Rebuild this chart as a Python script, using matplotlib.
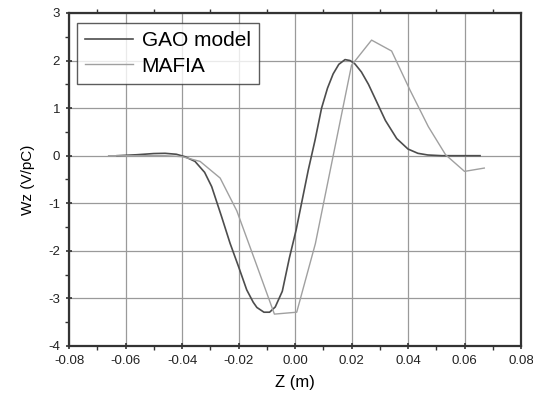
import matplotlib
matplotlib.use("Agg")

import matplotlib.pyplot as plt
from matplotlib.ticker import MultipleLocator

plt.rcParams["font.family"] = ["Liberation Sans", "DejaVu Sans"]
plt.rcParams["axes.unicode_minus"] = False

# GAO model curve
gao_z = [-0.063, -0.056, -0.050, -0.046, -0.042, -0.039, -0.0354, -0.032, -0.0295,
         -0.026, -0.023, -0.020, -0.0171, -0.0148, -0.0135, -0.011, -0.009, -0.007,
         -0.0045, -0.002, 0.0004, 0.0047, 0.0071, 0.0094, 0.0115, 0.0135, 0.0155,
         0.0177, 0.0195, 0.0212, 0.0235, 0.026, 0.029, 0.032, 0.036, 0.040,
         0.0435, 0.047, 0.052, 0.0655]
gao_wz = [0.0, 0.02, 0.045, 0.05, 0.03, -0.02, -0.12, -0.35, -0.65,
          -1.28, -1.84, -2.33, -2.82, -3.08, -3.19, -3.29, -3.29, -3.18,
          -2.85, -2.15, -1.56, -0.30, 0.33, 1.0, 1.42, 1.72, 1.92,
          2.02, 2.0, 1.93, 1.76, 1.50, 1.12, 0.74, 0.36, 0.14,
          0.05, 0.015, 0.0, 0.0]

# MAFIA simulation (polyline)
mafia_z = [-0.066, -0.053, -0.046, -0.040, -0.0336, -0.0265, -0.0206, -0.0142,
           -0.0073, 0.0006, 0.0072, 0.0200, 0.0271, 0.0342, 0.0407, 0.0472,
           0.0533, 0.0600, 0.0670]
mafia_wz = [0.0, 0.0, 0.0, -0.02, -0.12, -0.47, -1.16, -2.2,
            -3.33, -3.29, -1.85, 1.9, 2.43, 2.2, 1.38, 0.61,
            0.02, -0.33, -0.26]

fig = plt.figure(figsize=(5.33, 3.97), dpi=100)
ax = fig.add_axes([0.1295, 0.1285, 0.848, 0.8388])

ax.plot(gao_z, gao_wz, color="#4d4d4d", lw=1.2, label="GAO model")
ax.plot(mafia_z, mafia_wz, color="#a0a0a0", lw=1.0, label="MAFIA")

ax.set_xlim(-0.08, 0.08)
ax.set_ylim(-4, 3)
ax.xaxis.set_major_locator(MultipleLocator(0.02))
ax.xaxis.set_minor_locator(MultipleLocator(0.01))
ax.yaxis.set_major_locator(MultipleLocator(1))
ax.yaxis.set_minor_locator(MultipleLocator(0.5))
ax.set_xticks(ax.get_xticks())
ax.set_xticklabels(["%.2f" % v for v in ax.get_xticks()])
ax.set_xlim(-0.08, 0.08)

ax.grid(True, which="major", color="#9a9a9a", lw=0.9)
ax.set_axisbelow(True)

for s in ax.spines.values():
    s.set_linewidth(1.6)
    s.set_color("#333333")

ax.tick_params(which="major", direction="inout", length=5, width=1.2,
               labelsize=9.5, colors="#333333", labelcolor="#222222",
               top=False, right=False, pad=4)
ax.tick_params(which="minor", direction="out", length=3, width=1.0,
               colors="#333333", top=True, right=False)

ax.set_xlabel("Z (m)", fontsize=12, labelpad=6)
ax.set_ylabel("Wz (V/pC)", fontsize=11, labelpad=9)

leg = ax.legend(loc="upper left", bbox_to_anchor=(0.0177, 0.97), fontsize=15,
                frameon=True, fancybox=False, handlelength=2.3,
                handletextpad=0.4, borderpad=0.4, labelspacing=0.3,
                borderaxespad=0)
leg.get_frame().set_edgecolor("#333333")
leg.get_frame().set_linewidth(1.0)

fig.savefig("out.png", dpi=100)
